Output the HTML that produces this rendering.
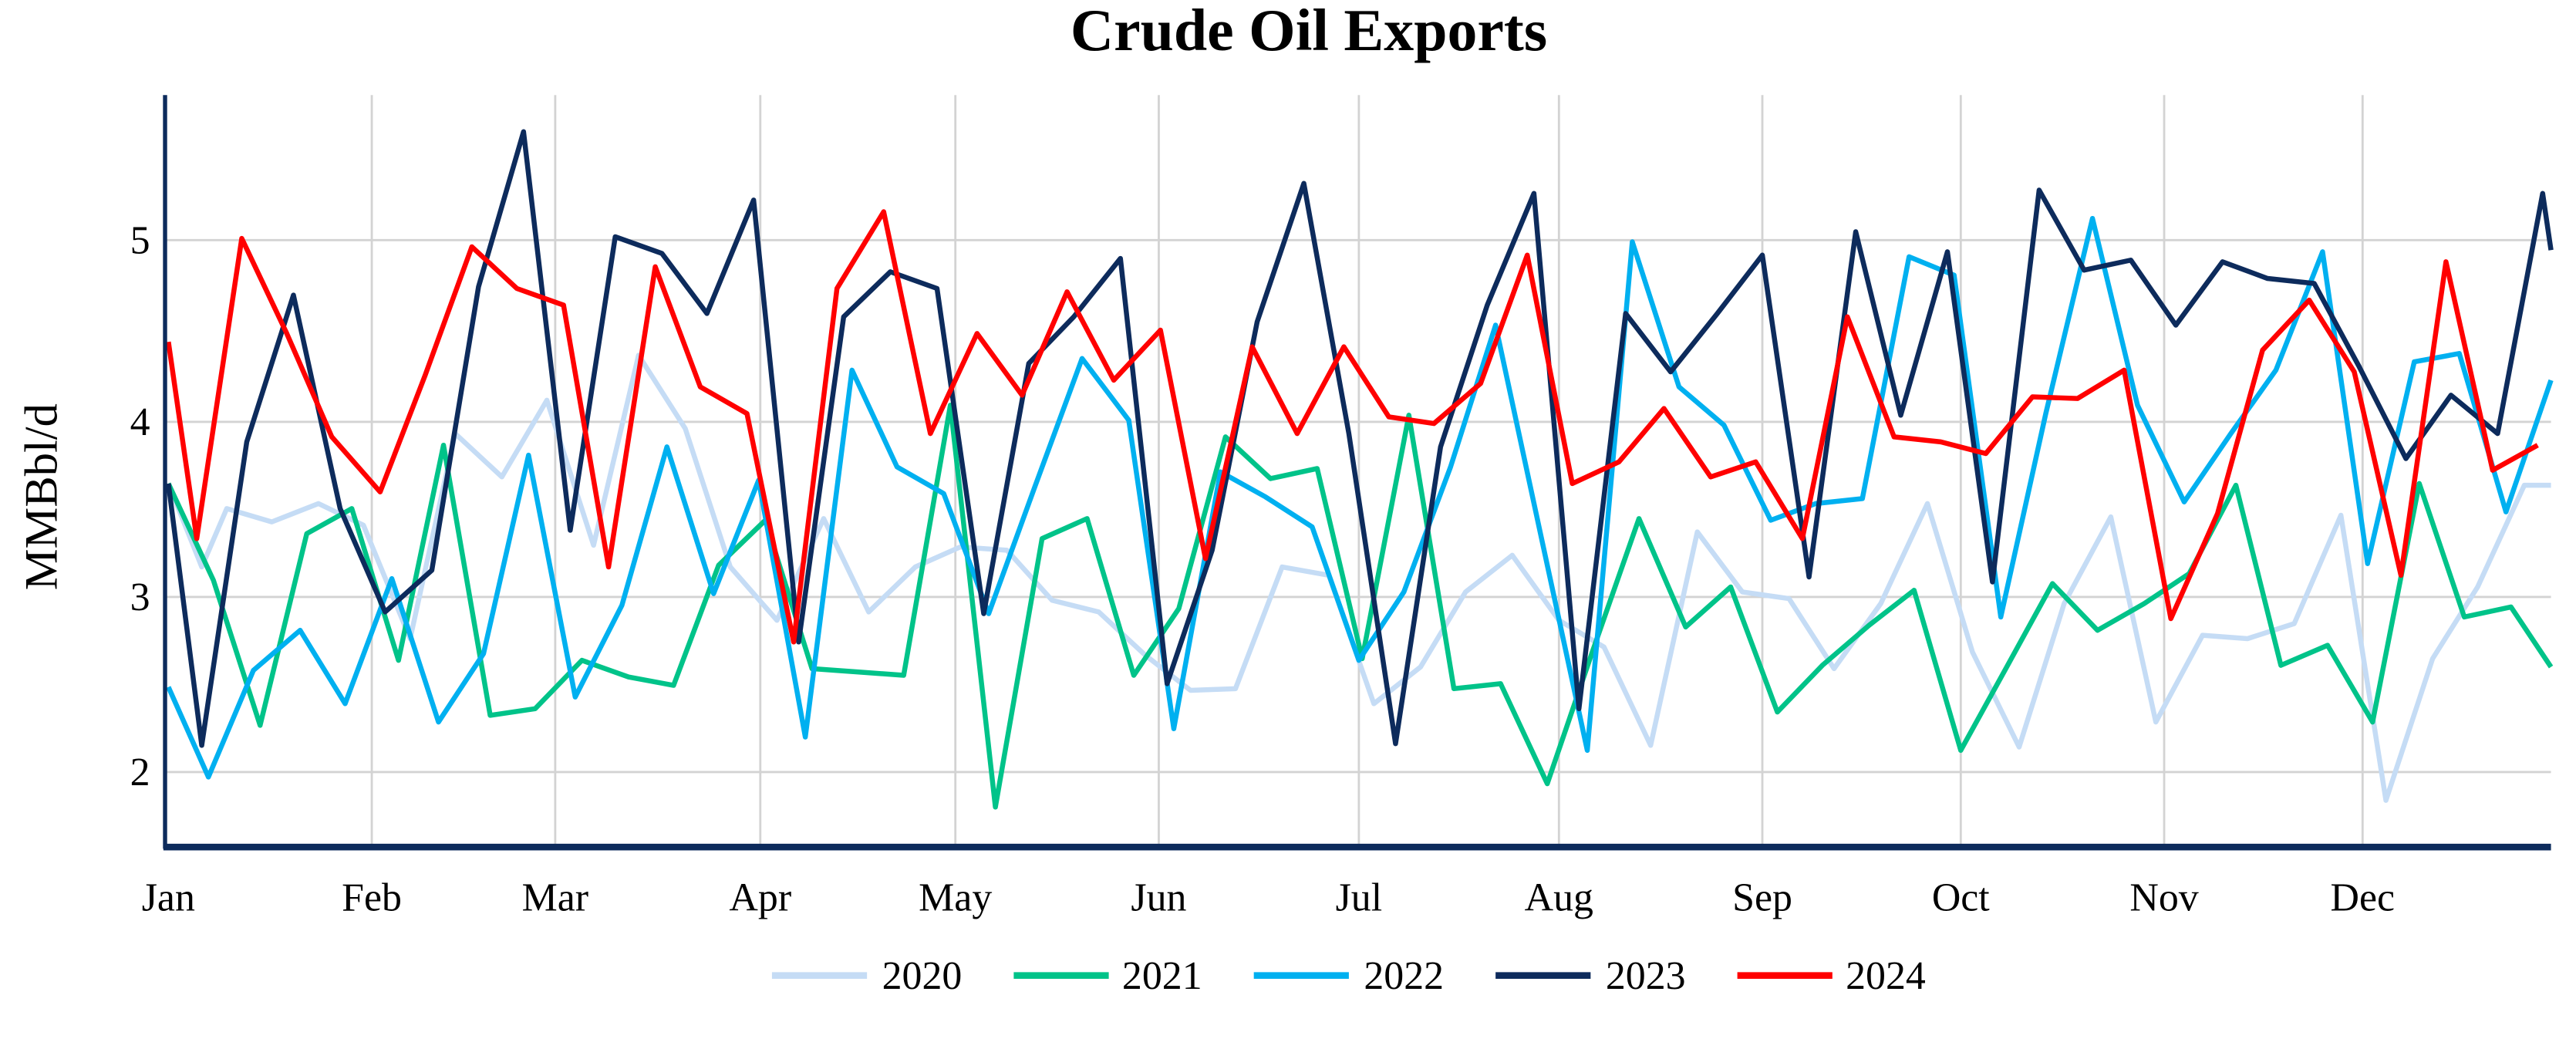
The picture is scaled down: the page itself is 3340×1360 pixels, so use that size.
<!DOCTYPE html>
<html><head><meta charset="utf-8"><style>html,body{margin:0;padding:0;background:#fff}svg{display:block}</style></head>
<body>
<svg width="3340" height="1360" viewBox="0 0 1545 629.1" preserveAspectRatio="none" xmlns="http://www.w3.org/2000/svg" font-family="Liberation Serif, serif">
<rect width="1545" height="630" fill="#fff"/>
<text x="785" y="30" text-anchor="middle" font-size="36" font-weight="bold">Crude Oil Exports</text>
<g stroke="#d3d3d3" stroke-width="1.3">
<line x1="99" x2="1530" y1="144" y2="144"/><line x1="99" x2="1530" y1="253" y2="253"/><line x1="99" x2="1530" y1="358" y2="358"/><line x1="99" x2="1530" y1="463" y2="463"/>
<line x1="223" x2="223" y1="57" y2="508"/><line x1="333" x2="333" y1="57" y2="508"/><line x1="456" x2="456" y1="57" y2="508"/><line x1="573" x2="573" y1="57" y2="508"/><line x1="695" x2="695" y1="57" y2="508"/><line x1="815" x2="815" y1="57" y2="508"/><line x1="935" x2="935" y1="57" y2="508"/><line x1="1057" x2="1057" y1="57" y2="508"/><line x1="1176" x2="1176" y1="57" y2="508"/><line x1="1298" x2="1298" y1="57" y2="508"/><line x1="1417" x2="1417" y1="57" y2="508"/>
</g>
<g font-size="24" text-anchor="end"><text x="90" y="152">5</text><text x="90" y="261">4</text><text x="90" y="366">3</text><text x="90" y="471">2</text></g>
<text transform="translate(34,298) rotate(-90)" text-anchor="middle" font-size="28">MMBbl/d</text>
<g font-size="24" text-anchor="middle"><text x="101" y="546">Jan</text><text x="223" y="546">Feb</text><text x="333" y="546">Mar</text><text x="456" y="546">Apr</text><text x="573" y="546">May</text><text x="695" y="546">Jun</text><text x="815" y="546">Jul</text><text x="935" y="546">Aug</text><text x="1057" y="546">Sep</text><text x="1176" y="546">Oct</text><text x="1298" y="546">Nov</text><text x="1417" y="546">Dec</text></g>
<g fill="none" stroke-width="3" stroke-linejoin="round">
<polyline stroke="#c5dcf5" points="101,290 121,340 136,305 163,313 191,302 218,315 246,383 273,260 301,286 328,240 356,327 383,213 411,257 438,340 466,372 494,311 521,367 549,340 576,328 604,330 631,360 659,367 687,393 714,414 741,413 769,340 797,345 824,422 852,400 879,355 907,333 935,372 962,388 990,447 1018,319 1045,355 1073,359 1100,401 1128,362 1156,302 1183,391 1211,448 1238,362 1266,310 1293,433 1321,381 1348,383 1376,374 1404,309 1431,480 1459,395 1486,352 1514,291 1530,291"/>
<polyline stroke="#00c389" points="101,290 128,348 156,435 184,320 211,305 239,396 266,267 294,429 321,425 349,396 377,406 404,411 431,339 459,312 487,401 515,403 542,405 570,243 597,484 625,323 652,311 680,405 707,365 735,262 762,287 790,281 817,395 845,249 872,413 900,410 928,470 955,391 983,311 1011,376 1038,352 1066,427 1093,399 1121,375 1148,354 1176,450 1203,401 1231,350 1258,378 1286,362 1313,344 1341,291 1368,399 1396,387 1423,433 1451,290 1478,370 1506,364 1530,400"/>
<polyline stroke="#00b0f0" points="101,412 125,466 152,402 180,378 207,422 235,347 263,433 290,392 317,273 345,418 373,363 400,268 428,356 455,288 483,442 511,222 538,280 566,296 593,368 621,291 649,215 677,252 704,437 732,283 759,298 787,316 815,396 842,355 870,280 897,195 925,325 952,450 979,145 1007,232 1034,255 1062,312 1089,302 1117,299 1145,154 1172,165 1200,370 1227,248 1255,131 1282,243 1310,301 1338,260 1365,222 1393,151 1420,338 1448,217 1475,212 1503,307 1530,228"/>
<polyline stroke="#0d2b5c" points="101,290 121,447 148,265 176,177 204,305 231,367 259,342 287,172 314,79 342,318 369,142 397,152 424,188 452,120 479,385 506,190 534,163 562,173 590,368 617,218 644,190 672,155 700,410 727,330 754,193 782,110 809,260 837,446 864,268 892,183 920,116 947,425 975,188 1002,223 1030,188 1057,153 1085,346 1113,139 1140,249 1168,151 1195,349 1223,114 1250,162 1278,156 1305,195 1333,157 1360,167 1388,170 1415,220 1443,275 1470,237 1498,260 1525,116 1530,150"/>
<polyline stroke="#ff0000" points="101,205 118,323 145,143 172,200 199,262 228,295 255,225 283,148 310,173 338,183 365,340 393,160 420,232 448,248 476,385 502,173 530,127 558,260 586,200 613,237 640,175 668,228 696,198 723,335 751,208 778,260 806,208 833,250 860,254 888,230 916,153 943,290 971,277 998,245 1026,286 1053,277 1081,323 1108,190 1136,262 1164,265 1191,272 1219,238 1246,239 1274,222 1302,371 1330,308 1357,210 1385,180 1412,223 1440,345 1467,157 1495,282 1522,267"/>
</g>
<line x1="99" x2="99" y1="57" y2="509" stroke="#0d2b5c" stroke-width="2.5"/>
<line x1="98" x2="1530" y1="508" y2="508" stroke="#0d2b5c" stroke-width="4"/>
<g stroke-width="4">
<line x1="463" x2="520" y1="585" y2="585" stroke="#c5dcf5"/>
<line x1="608" x2="665" y1="585" y2="585" stroke="#00c389"/>
<line x1="752" x2="809" y1="585" y2="585" stroke="#00b0f0"/>
<line x1="897" x2="954" y1="585" y2="585" stroke="#0d2b5c"/>
<line x1="1042" x2="1099" y1="585" y2="585" stroke="#ff0000"/>
</g>
<g font-size="24"><text x="529" y="593">2020</text><text x="673" y="593">2021</text><text x="818" y="593">2022</text><text x="963" y="593">2023</text><text x="1107" y="593">2024</text></g>
</svg>
</body></html>
